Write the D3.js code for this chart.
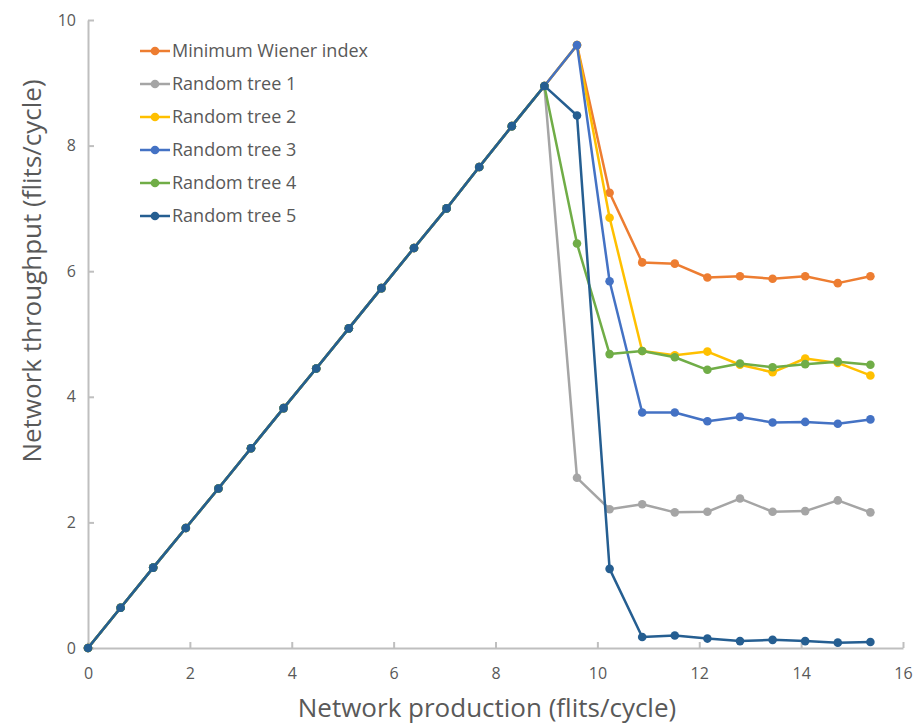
<!DOCTYPE html>
<html><head><meta charset="utf-8">
<script src="https://cdn.jsdelivr.net/npm/d3@7"></script>
<style>body{margin:0;background:#fff}svg{display:block}</style>
</head><body>
<svg id="chart" width="918" height="724"></svg>
<script>
const xValues = [0,0.64,1.28,1.92,2.56,3.2,3.84,4.48,5.12,5.76,6.4,7.04,7.68,8.32,8.96,9.6,10.24,10.88,11.52,12.16,12.8,13.44,14.08,14.72,15.36];
const rampValues = [0,0.64,1.28,1.91,2.54,3.18,3.82,4.45,5.09,5.73,6.37,7.0,7.66,8.31,8.95];
const minWiener = [9.6,7.25,6.14,6.12,5.90,5.92,5.88,5.92,5.81,5.92];
const tree1 = [2.71,2.21,2.29,2.16,2.17,2.38,2.17,2.18,2.35,2.16];
const tree2 = [9.6,6.85,4.73,4.66,4.72,4.51,4.39,4.61,4.54,4.34];
const tree3 = [9.6,5.84,3.75,3.75,3.61,3.68,3.59,3.60,3.57,3.64];
const tree4 = [6.44,4.68,4.73,4.63,4.43,4.53,4.47,4.52,4.56,4.51];
const tree5 = [8.48,1.26,0.175,0.20,0.15,0.11,0.13,0.11,0.085,0.095];
const seriesNames = ["Minimum Wiener index","Random tree 1","Random tree 2","Random tree 3","Random tree 4","Random tree 5"];
const seriesColors = ["#ED7D31","#A5A5A5","#FFC000","#4472C4","#70AD47","#255E91"];
const xTicks = [0,2,4,6,8,10,12,14,16];
const yTicks = [0,2,4,6,8,10];

const tails = [minWiener,tree1,tree2,tree3,tree4,tree5];
const series = seriesNames.map((name,i)=>({
  name, color: seriesColors[i],
  values: rampValues.concat(tails[i]).map((v,j)=>({x:xValues[j], y:v}))
}));

const svg = d3.select("#chart");
const font = "'Open Sans', sans-serif";
const L=88, R=903, T=20, B=648;
const x = d3.scaleLinear().domain([0,16]).range([L,R]);
const y = d3.scaleLinear().domain([0,10]).range([B,T]);

// axes
const axisColor = "#BFBFBF";
const gx = svg.append("g").attr("transform",`translate(0,${B})`)
  .call(d3.axisBottom(x).tickValues(xTicks).tickSizeInner(-6).tickSizeOuter(0).tickPadding(20));
const gy = svg.append("g").attr("transform",`translate(${L},0)`)
  .call(d3.axisLeft(y).tickValues(yTicks).tickSizeInner(-6).tickSizeOuter(0).tickPadding(12));
[gx,gy].forEach(g=>{
  g.select(".domain").attr("stroke",axisColor).attr("stroke-width",2);
  g.selectAll(".tick line").attr("stroke",axisColor).attr("stroke-width",2);
  g.selectAll(".tick text").attr("fill","#595959").style("font-family",font).style("font-size","16px");
});

// titles
svg.append("text").attr("x",487).attr("y",717).attr("text-anchor","middle")
  .attr("fill","#595959").style("font-family",font).style("font-size","26px")
  .text("Network production (flits/cycle)");
svg.append("text").attr("transform",`translate(41,271) rotate(-90)`).attr("text-anchor","middle")
  .attr("fill","#595959").style("font-family",font).style("font-size","26px")
  .text("Network throughput (flits/cycle)");

// lines
const line = d3.line().x(d=>x(d.x)).y(d=>y(d.y));
const sg = svg.append("g").selectAll("g").data(series).join("g");
sg.append("path").attr("d",d=>line(d.values)).attr("fill","none")
  .attr("stroke",d=>d.color).attr("stroke-width",2.5).attr("stroke-linejoin","round");
sg.selectAll("circle").data(d=>d.values.map(v=>({...v,color:d.color}))).join("circle")
  .attr("cx",d=>x(d.x)).attr("cy",d=>y(d.y)).attr("r",4.3).attr("fill",d=>d.color);

// legend
const lg = svg.append("g").selectAll("g").data(series).join("g")
  .attr("transform",(d,i)=>`translate(140,${51+i*33})`);
lg.append("line").attr("x1",0).attr("x2",30).attr("stroke",d=>d.color).attr("stroke-width",2.5);
lg.append("circle").attr("cx",15).attr("r",4.3).attr("fill",d=>d.color);
lg.append("text").attr("x",32).attr("dy","0.35em").attr("fill","#595959")
  .style("font-family",font).style("font-size","18px").text(d=>d.name);
</script>
</body></html>
